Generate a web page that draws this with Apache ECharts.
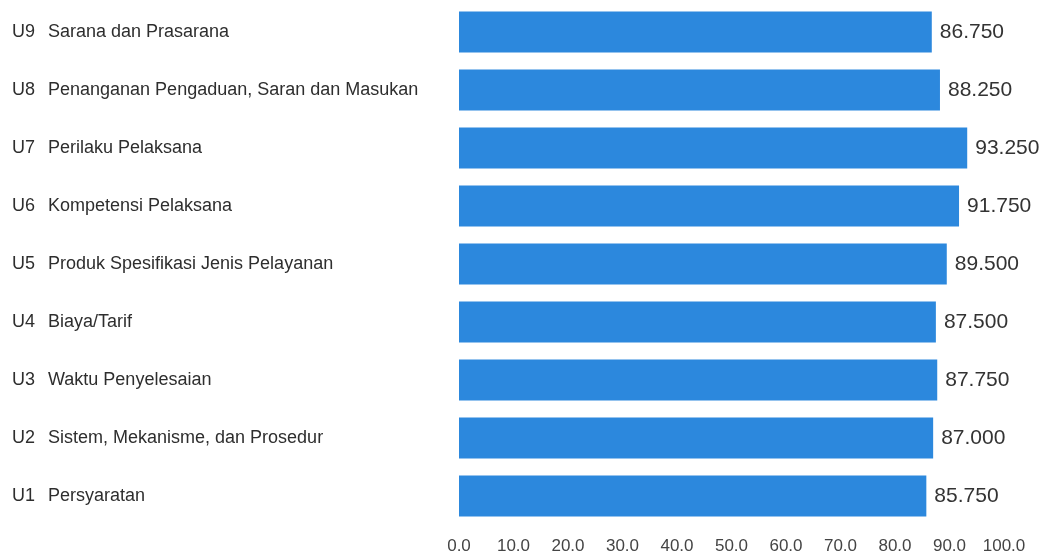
<!DOCTYPE html>
<html>
<head>
<meta charset="utf-8">
<script src="https://cdn.jsdelivr.net/npm/echarts@6/dist/echarts.min.js"></script>
<style>
html,body{margin:0;padding:0;background:#fff;}
#c{width:1042px;height:556px;}
</style>
</head>
<body>
<div id="c"></div>
<script>
const codes = ["U1","U2","U3","U4","U5","U6","U7","U8","U9"];
const names = ["Persyaratan","Sistem, Mekanisme, dan Prosedur","Waktu Penyelesaian","Biaya/Tarif","Produk Spesifikasi Jenis Pelayanan","Kompetensi Pelaksana","Perilaku Pelaksana","Penanganan Pengaduan, Saran dan Masukan","Sarana dan Prasarana"];
const values = [85.75, 87.0, 87.75, 87.5, 89.5, 91.75, 93.25, 88.25, 86.75];
const xTicks = [0,10,20,30,40,50,60,70,80,90,100];

const chart = echarts.init(document.getElementById('c'), null, {renderer:'canvas'});
chart.setOption({
  animation:false,
  backgroundColor:'#ffffff',
  grid:{left:459, right:38, top:3, bottom:31, containLabel:false},
  xAxis:{
    type:'value', min:0, max:100, interval:10,
    axisLine:{show:false}, axisTick:{show:false}, splitLine:{show:false},
    axisLabel:{
      margin:13, color:'#444', fontFamily:'Liberation Sans, Arial, sans-serif', fontSize:17,
      formatter:function(v){ return xTicks.indexOf(v) >= 0 ? v.toFixed(1) : ''; }
    }
  },
  yAxis:{
    type:'category', data:codes.map(function(c,i){ return c + '|' + names[i]; }),
    axisLine:{show:false}, axisTick:{show:false}, splitLine:{show:false},
    axisLabel:{
      align:'left', margin:447,
      formatter:function(v){ const p = v.split('|'); return '{c|' + p[0] + '}{n|' + p[1] + '}'; },
      rich:{
        c:{color:'#2e2e2e', fontFamily:'Liberation Sans, Arial, sans-serif', fontSize:18},
        n:{color:'#2e2e2e', fontFamily:'Liberation Sans, Arial, sans-serif', fontSize:18, padding:[0,0,0,13]}
      }
    }
  },
  series:[{
    type:'bar', data:values, barCategoryGap:'29%',
    itemStyle:{color:'#2c88dd'},
    label:{
      show:true, position:'right', distance:8, color:'#333',
      fontFamily:'Liberation Sans, Arial, sans-serif', fontSize:21,
      formatter:function(p){ return p.value.toFixed(3); }
    }
  }]
});
</script>
</body>
</html>
